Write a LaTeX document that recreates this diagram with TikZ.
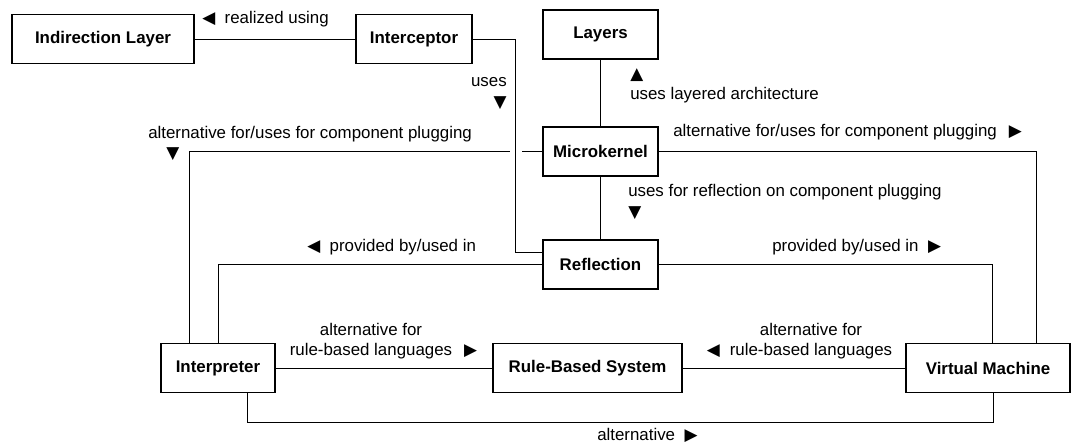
\documentclass[tikz,border=0pt]{standalone}
\usepackage{fontspec}
\setmainfont{Liberation Sans}
\newfontfamily\symfont{DejaVu Sans}
\usepackage{tikz}
\newcommand{\dnmark}{{\symfont ▼}}
\newcommand{\upmark}{{\symfont ▲}}
\newcommand{\ltmark}{{\symfont ◀}}
\newcommand{\rtmark}{{\symfont ▶}}
\tikzset{
    common/.style={font=\fontsize{12}{14.5}\selectfont},
    box/.style={draw, rectangle, line width=1.3pt, minimum height=1.225cm, inner sep=0pt, font=\fontsize{12}{14.5}\selectfont\bfseries},
    link/.style={line width=0.7pt},
    lbl/.style={common, inner sep=0pt},
    gap/.style={white, line width=3pt}
}

\begin{document}
\begin{tikzpicture}[x=0.025cm, y=-0.025cm]
    \useasboundingbox (0,0) rectangle (1072,444);

    \node[box, minimum width=4.55cm] (indir) at (103,39) {Indirection Layer};
    \node[box, minimum width=2.9cm] (intercept) at (414,39) {Interceptor};
    \node[box, minimum width=2.875cm] (layers) at (600.5,34.5) {Layers};
    \node[box, minimum width=2.875cm] (mkernel) at (600.5,151.5) {Microkernel};
    \node[box, minimum width=2.875cm] (reflect) at (600.5,264.5) {Reflection};
    \node[box, minimum width=2.85cm] (interp) at (218,368) {Interpreter};
    \node[box, minimum width=4.725cm] (rbs) at (587.5,368) {Rule-Based System};
    \node[box, minimum width=4.1cm] (vm) at (988,368) {Virtual Machine};

    \draw[link] (indir) -- (intercept);
    \draw[link] (layers) -- (mkernel);
    \draw[link] (mkernel) -- (reflect);
    \draw[link] (mkernel.west) -| ([xshift=-0.725cm]interp.north);
    \draw[gap] ([xshift=-0.5cm]mkernel.west) -- ([xshift=-0.8cm]mkernel.west);
    \draw[link] (intercept.east) -| ([xshift=-0.675cm, yshift=0.3cm]reflect.west) -- ([yshift=0.3cm]reflect.west);
    \draw[link] (mkernel.east) -| ([xshift=1.2cm]vm.north);
    \draw[link] (reflect.west) -| (interp.north);
    \draw[link] (reflect.east) -| ([xshift=0.11cm]vm.north);
    \draw[link] (interp) -- (rbs);
    \draw[link] (rbs) -- (vm);
    \draw[link] ([xshift=0.725cm]interp.south) -- ++(0,29) -| ([xshift=0.125cm]vm.south);

    \node[lbl, anchor=west] (lrealize) at (202,19) {\ltmark\ \ realized using};
    \node[lbl, anchor=east, align=right] (luses) at (507,93.5) {uses\\\dnmark};
    \node[lbl, anchor=west, align=left] (lplugl) at (148,143.5) {alternative for/uses for component plugging\\\hspace*{0.45cm}\dnmark};
    \node[lbl, anchor=west] (lplugr) at (673,132) {alternative for/uses for component plugging\hspace{0.3cm}\rtmark};
    \node[lbl, anchor=west, align=left] (llayer) at (630,86) {\upmark\\uses layered architecture};
    \node[lbl, anchor=west, align=left] (lrefl) at (628,202) {uses for reflection on component plugging\\\dnmark};
    \node[lbl, anchor=west] (lprovl) at (307,247) {\ltmark\ \ provided by/used in};
    \node[lbl, anchor=west] (lprovr) at (772,247) {provided by/used in\ \ \rtmark};
    \node[lbl, align=center] (lrulel) at (371,341) {alternative for\\rule-based languages\rlap{\hspace{0.3cm}\rtmark}};
    \node[lbl, align=center] (lruler) at (811,341) {alternative for\\\llap{\ltmark\hspace{0.25cm}}rule-based languages};
    \node[lbl, anchor=west] (lalt) at (597,435) {alternative\ \ \rtmark};
\end{tikzpicture}
\end{document}
